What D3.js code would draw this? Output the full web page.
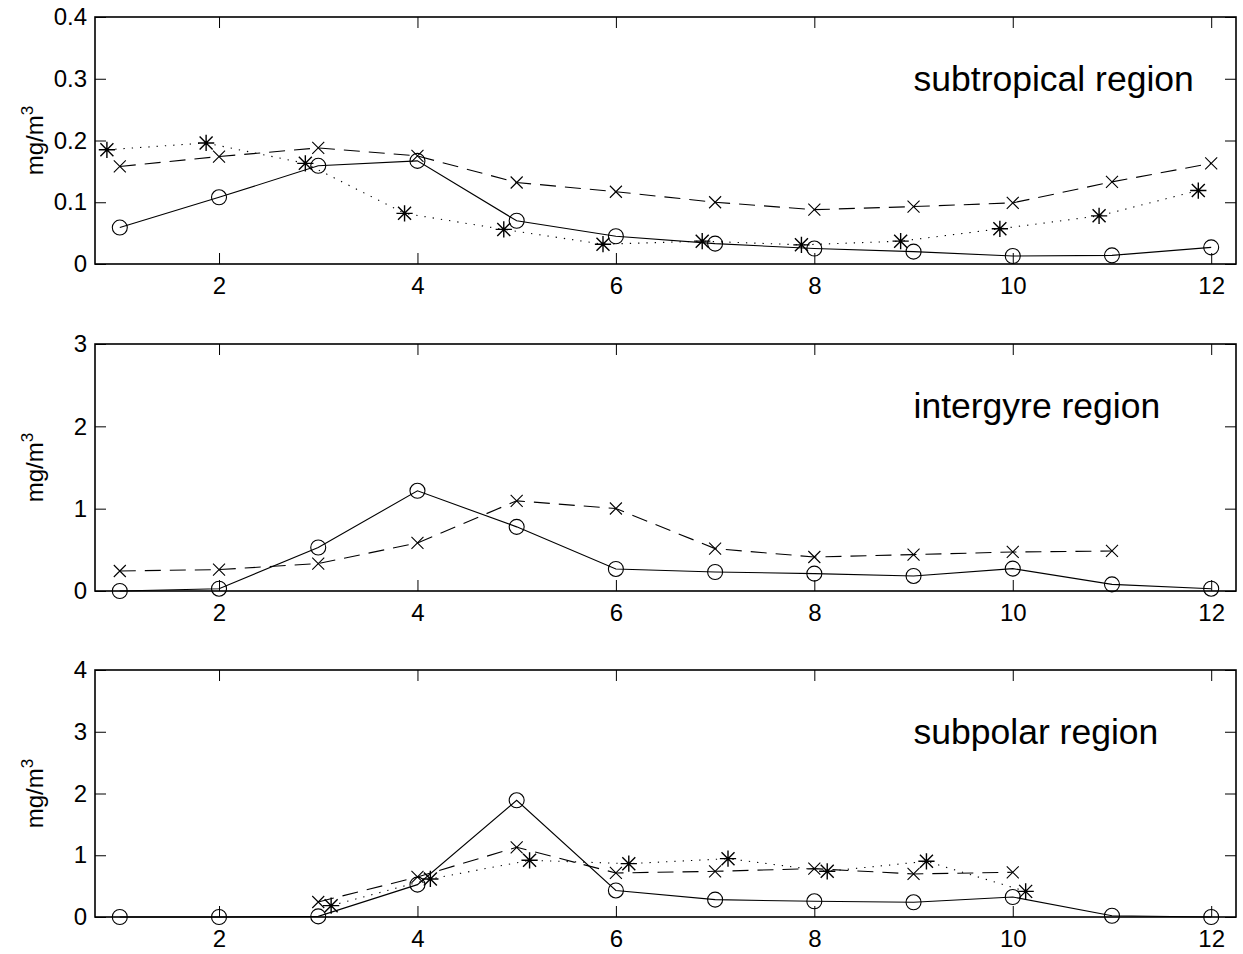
<!DOCTYPE html>
<html>
<head>
<meta charset="utf-8">
<script src="https://cdnjs.cloudflare.com/ajax/libs/d3/7.8.5/d3.min.js"></script>
<style>
  body { margin: 0; background: #fff; }
  svg { display: block; font-family: "Liberation Sans", Arial, Helvetica, sans-serif; }
  .tick text { font-size: 24px; fill: #000; }
  .tick line { stroke: #000; stroke-width: 1; }
  .region-title { font-size: 35.5px; fill: #000; }
  .y-title { font-size: 24px; fill: #000; }
</style>
</head>
<body>
<div id="chart"></div>
<script>
// months on the x axis
const months = [1, 2, 3, 4, 5, 6, 7, 8, 9, 10, 11, 12];
const xTicks = [2, 4, 6, 8, 10, 12];

// subtropical region
const subtropicalCircle = [0.059, 0.108, 0.159, 0.167, 0.070, 0.045, 0.033, 0.025, 0.020, 0.013, 0.014, 0.027];
const subtropicalCross = [0.158, 0.174, 0.188, 0.175, 0.132, 0.117, 0.100, 0.088, 0.093, 0.099, 0.133, 0.163];
const subtropicalStarMonths = [0.87, 1.87, 2.87, 3.87, 4.87, 5.87, 6.87, 7.87, 8.87, 9.87, 10.87, 11.87];
const subtropicalStar = [0.185, 0.196, 0.163, 0.082, 0.056, 0.032, 0.037, 0.031, 0.037, 0.057, 0.078, 0.119];
const subtropicalTicks = [0, 0.1, 0.2, 0.3, 0.4];

// intergyre region
const intergyreCircle = [0, 0.028, 0.528, 1.217, 0.779, 0.268, 0.231, 0.211, 0.183, 0.272, 0.081, 0.028];
const intergyreCrossMonths = [1, 2, 3, 4, 5, 6, 7, 8, 9, 10, 11];
const intergyreCross = [0.243, 0.26, 0.333, 0.584, 1.095, 1.002, 0.515, 0.413, 0.442, 0.474, 0.486];
const intergyreTicks = [0, 1, 2, 3];

// subpolar region
const subpolarCircle = [0, 0, 0.01, 0.524, 1.89, 0.43, 0.281, 0.254, 0.238, 0.324, 0.02, 0];
const subpolarCrossMonths = [3, 4, 5, 6, 7, 8, 9, 10];
const subpolarCross = [0.243, 0.648, 1.129, 0.713, 0.74, 0.783, 0.697, 0.724];
const subpolarStarMonths = [3.13, 4.13, 5.13, 6.13, 7.13, 8.13, 9.13, 10.13];
const subpolarStar = [0.184, 0.616, 0.918, 0.864, 0.945, 0.74, 0.902, 0.415];
const subpolarTicks = [0, 1, 2, 3, 4];

const regionNames = [`subtropical region`, `intergyre region`, `subpolar region`];
const regionLabelX = 9;
const regionLabelY = [0.28, 2.1, 2.8];

const width = 1243;
const height = 954;
const margin = {left: 95, right: 7};
const panelTops = [17, 344, 670];
const panelHeight = 247;
const tickLen = 11;

const zip = (xs, ys) => xs.map((x, i) => ({x, y: ys[i]}));

const panels = [
  {
    ticks: subtropicalTicks,
    series: [
      {points: zip(months, subtropicalCircle), marker: `circle`, dash: null},
      {points: zip(months, subtropicalCross), marker: `cross`, dash: `16,9`},
      {points: zip(subtropicalStarMonths, subtropicalStar), marker: `star`, dash: `1.3,7`},
    ],
  },
  {
    ticks: intergyreTicks,
    series: [
      {points: zip(months, intergyreCircle), marker: `circle`, dash: null},
      {points: zip(intergyreCrossMonths, intergyreCross), marker: `cross`, dash: `16,9`},
    ],
  },
  {
    ticks: subpolarTicks,
    series: [
      {points: zip(months, subpolarCircle), marker: `circle`, dash: null},
      {points: zip(subpolarCrossMonths, subpolarCross), marker: `cross`, dash: `16,9`},
      {points: zip(subpolarStarMonths, subpolarStar), marker: `star`, dash: `1.3,7`},
    ],
  },
];

const svg = d3.select(`#chart`).append(`svg`)
  .attr(`width`, width)
  .attr(`height`, height);

const x = d3.scaleLinear()
  .domain([0.75, 12.25])
  .range([margin.left, width - margin.right]);

const drawMarker = (g, type, cx, cy) => {
  if (type === `circle`) {
    g.append(`circle`).attr(`cx`, cx).attr(`cy`, cy).attr(`r`, 7.5)
      .attr(`fill`, `none`).attr(`stroke`, `#000`).attr(`stroke-width`, 1.1);
    return;
  }
  const s = type === `cross` ? 6 : 6.5;
  let d = `M${cx - s},${cy - s}L${cx + s},${cy + s}M${cx - s},${cy + s}L${cx + s},${cy - s}`;
  if (type === `star`) {
    const p = s * 1.25;
    d += `M${cx - p},${cy}L${cx + p},${cy}M${cx},${cy - p}L${cx},${cy + p}`;
  }
  g.append(`path`).attr(`d`, d).attr(`stroke`, `#000`).attr(`stroke-width`, type === `star` ? 1.4 : 1.1).attr(`fill`, `none`);
};

panels.forEach((panel, i) => {
  const top = panelTops[i];
  const bottom = top + panelHeight;
  const yMax = panel.ticks[panel.ticks.length - 1];

  const y = d3.scaleLinear()
    .domain([0, yMax])
    .range([bottom, top]);

  const g = svg.append(`g`).attr(`class`, `panel`);

  // axes with inward ticks on all four sides
  g.append(`g`)
    .attr(`transform`, `translate(0,${bottom})`)
    .call(d3.axisBottom(x).tickValues(xTicks).tickSizeInner(-tickLen).tickSizeOuter(0).tickPadding(13));

  g.append(`g`)
    .attr(`transform`, `translate(0,${top})`)
    .call(d3.axisTop(x).tickValues(xTicks).tickSizeInner(-tickLen).tickSizeOuter(0).tickFormat(``));

  g.append(`g`)
    .attr(`transform`, `translate(${margin.left},0)`)
    .call(d3.axisLeft(y).tickValues(panel.ticks).tickSizeInner(-tickLen).tickSizeOuter(0).tickPadding(8)
      .tickFormat(d3.format(`~g`)));

  g.append(`g`)
    .attr(`transform`, `translate(${width - margin.right},0)`)
    .call(d3.axisRight(y).tickValues(panel.ticks).tickSizeInner(-tickLen).tickSizeOuter(0).tickFormat(``));

  g.selectAll(`.domain`).remove();
  g.selectAll(`.tick text`).attr(`font-family`, null).attr(`font-size`, null);

  g.append(`rect`)
    .attr(`x`, margin.left)
    .attr(`y`, top)
    .attr(`width`, width - margin.right - margin.left)
    .attr(`height`, panelHeight)
    .attr(`fill`, `none`)
    .attr(`stroke`, `#000`)
    .attr(`stroke-width`, 1.6);

  // y title
  const yTitle = g.append(`text`)
    .attr(`class`, `y-title`)
    .attr(`text-anchor`, `middle`)
    .attr(`transform`, `translate(43, ${(top + bottom) / 2}) rotate(-90)`);
  yTitle.append(`tspan`).text(`mg/m`);
  yTitle.append(`tspan`).attr(`dy`, -10).attr(`font-size`, 17).text(`3`);

  const line = d3.line().x(d => x(d.x)).y(d => y(d.y));

  panel.series.forEach((s) => {
    g.append(`path`)
      .datum(s.points)
      .attr(`d`, line)
      .attr(`fill`, `none`)
      .attr(`stroke`, `#000`)
      .attr(`stroke-width`, 1.1)
      .attr(`stroke-dasharray`, s.dash);

    const mg = g.append(`g`);
    s.points.forEach((p) => drawMarker(mg, s.marker, x(p.x), y(p.y)));
  });

  g.append(`text`)
    .attr(`class`, `region-title`)
    .attr(`x`, x(regionLabelX))
    .attr(`y`, y(regionLabelY[i]))
    .text(regionNames[i]);
});
</script>
</body>
</html>
